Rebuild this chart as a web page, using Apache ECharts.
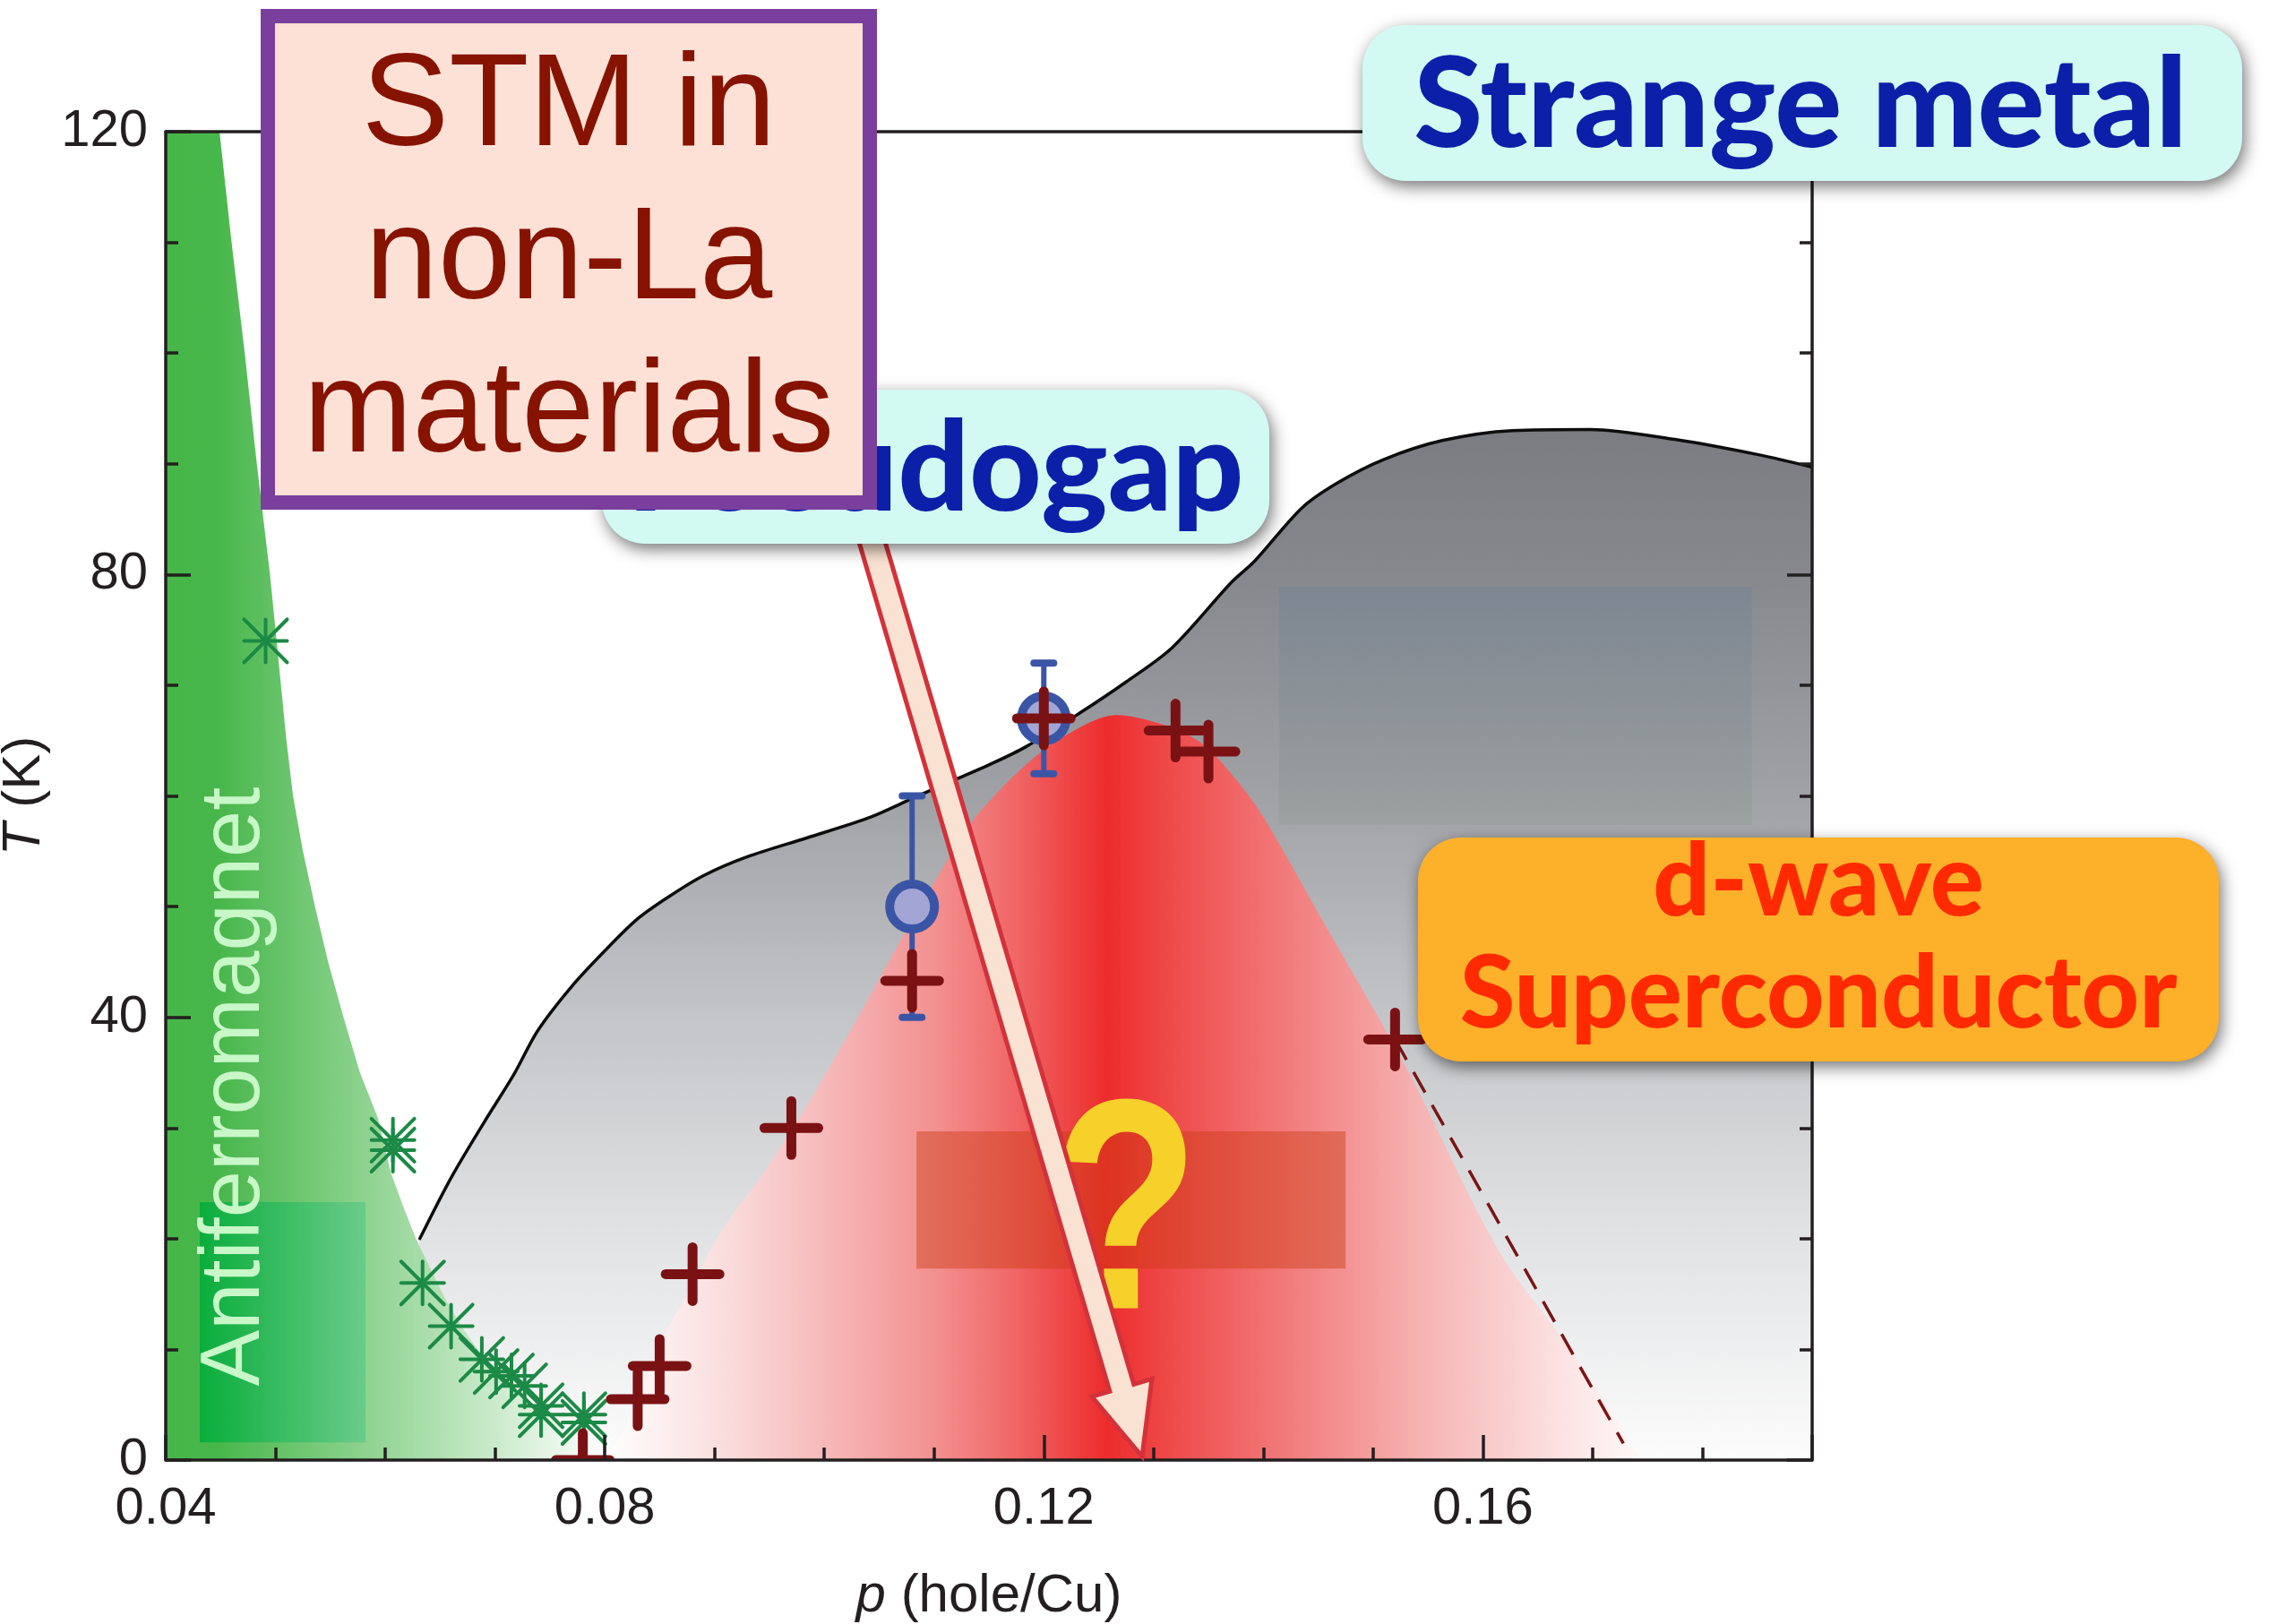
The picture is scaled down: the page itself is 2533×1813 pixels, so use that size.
<!DOCTYPE html>
<html><head><meta charset="utf-8">
<script src="https://cdn.jsdelivr.net/npm/echarts@6/dist/echarts.min.js"></script>
<style>html,body{margin:0;padding:0;background:#fff}#c{width:2533px;height:1813px}</style>
</head><body><div id="c"></div>
<script>
// ---------------- DATA ----------------
const xTickLabels = ['0.04', '0.08', '0.12', '0.16'];
const yTickLabels = ['0', '40', '80', '120'];

// Antiferromagnet boundary (p, T)
const afBoundP = [0.0400, 0.0449, 0.0460, 0.0472, 0.0483, 0.0495, 0.0505, 0.0510, 0.0516, 0.0525, 0.0536, 0.0548, 0.0562, 0.0577, 0.0593, 0.0605, 0.0618, 0.0628, 0.0640, 0.0655, 0.0670, 0.0688, 0.0710, 0.0733, 0.0760, 0.0780, 0.0800];
const afBoundT = [120, 120, 110, 100, 90, 80, 70, 65, 60, 55, 50, 45, 40, 35, 31, 26, 22.5, 20, 17.5, 14.5, 12, 9.5, 7, 5, 3, 1.3, 0];

// Pseudogap boundary line T*(p)
const pgLineP = [0.0631, 0.0660, 0.0690, 0.0717, 0.0739, 0.0770, 0.0800, 0.0830, 0.0860, 0.0890, 0.0930, 0.0984, 0.1040, 0.1081, 0.1120, 0.1150, 0.1183, 0.1233, 0.1275, 0.1317, 0.1371, 0.1392, 0.1435, 0.1468, 0.1510, 0.1563, 0.1627, 0.1698, 0.1775, 0.1852, 0.1900];
const pgLineT = [19.9, 25.5, 30.5, 34.8, 38.8, 42.8, 46.0, 48.9, 51.0, 52.8, 54.5, 56.2, 58.0, 59.8, 61.5, 62.8, 64.4, 67.5, 70.3, 73.4, 79.3, 81.2, 86.0, 88.3, 90.4, 92.1, 93.0, 93.1, 92.2, 90.8, 89.7];

// Superconducting dome boundary
const scDomeP = [0.0800, 0.0825, 0.0848, 0.0875, 0.0905, 0.0945, 0.0983, 0.1025, 0.1070, 0.1105, 0.1133, 0.1179, 0.1217, 0.1266, 0.1316, 0.1346, 0.1375, 0.1400, 0.1457, 0.1530, 0.1614, 0.1683, 0.1745];
const scDomeT = [0, 4, 10, 15, 20.5, 26, 31.8, 39, 47, 53, 57.5, 62.4, 65.3, 67.3, 66.2, 64.6, 61.5, 58.1, 48.2, 35.5, 19, 9.5, 0];

// Dashed extrapolation of Tc
const scDashP = [0.1520, 0.1728];
const scDashT = [38.0, 1.5];

// Neel temperature points (asterisks)
const afPtsP = [0.0491, 0.0607, 0.0607, 0.0634, 0.0660, 0.0688, 0.0701, 0.0715, 0.0727, 0.0742, 0.0742, 0.0781, 0.0781];
const afPtsT = [74.0, 28.9, 28.0, 16.0, 12.1, 9.1, 8.0, 7.6, 6.7, 4.9, 4.1, 4.1, 3.4];

// Tc points (crosses)
const scPtsP = [0.0780, 0.0830, 0.0850, 0.0880, 0.0970, 0.1080, 0.1200, 0.1320, 0.1350, 0.1520];
const scPtsT = [0.0, 5.5, 8.5, 16.8, 30.0, 43.3, 67.0, 65.9, 64.0, 38.0];

// STM points with error bars (circles)
const stmP = [0.1080, 0.1200];
const stmT = [50, 67];
const stmErr = [10, 5];

// Highlight rectangles [pseudogap, STM/?, antiferromagnet]
const hlP0 = [0.1414, 0.1084, 0.0431];
const hlP1 = [0.1845, 0.1475, 0.0582];
const hlT0 = [57.4, 17.3, 1.6];
const hlT1 = [78.9, 29.7, 23.3];

// ---------------- CHART ----------------
const zip2 = (a, b) => a.map((v, i) => [v, b[i]]);
const FONT = "'Liberation Sans', Arial, Helvetica, sans-serif";
const GILL = "Lato, 'Open Sans', sans-serif";
const AX = '#231f20';
const LG = echarts.graphic.LinearGradient;

const chart = echarts.init(document.getElementById('c'), null, {renderer: 'canvas', width: 2533, height: 1813});

const tickLine = {color: AX, width: 3.5};
const xBottom = {
  type: 'value', position: 'bottom', min: 0.04, max: 0.19, interval: 0.04, z: 10,
  axisLine: {show: true, onZero: false, lineStyle: tickLine},
  axisTick: {show: true, inside: true, length: 28, lineStyle: tickLine},
  minorTick: {show: true, splitNumber: 4, length: 14, lineStyle: tickLine},
  splitLine: {show: false},
  axisLabel: {
    margin: 26, color: AX, fontSize: 58, fontFamily: FONT,
    formatter: v => xTickLabels.find(l => Math.abs(parseFloat(l) - v) < 1e-6) || ''
  },
  name: '{i|p} (hole/Cu)', nameLocation: 'middle', nameGap: 122,
  nameTextStyle: {color: AX, fontSize: 60, fontFamily: FONT,
    rich: {i: {fontStyle: 'italic', fontSize: 60, fontFamily: FONT, color: AX}}}
};
const xTop = {
  type: 'value', position: 'top', min: 0.04, max: 0.19, interval: 0.04, z: 10,
  axisLine: {show: true, onZero: false, lineStyle: tickLine},
  axisTick: {show: false}, minorTick: {show: false}, axisLabel: {show: false}, splitLine: {show: false}
};
const yLeft = {
  type: 'value', position: 'left', min: 0, max: 120, interval: 40, z: 10,
  axisLine: {show: true, onZero: false, lineStyle: tickLine},
  axisTick: {show: true, inside: true, length: 28, lineStyle: tickLine},
  minorTick: {show: true, splitNumber: 4, length: 14, lineStyle: tickLine},
  splitLine: {show: false},
  axisLabel: {
    margin: 20, color: AX, fontSize: 58, fontFamily: FONT,
    formatter: v => yTickLabels.find(l => Math.abs(parseFloat(l) - v) < 1e-6) || ''
  },
  name: '{i|T} (K)', nameLocation: 'middle', nameRotate: 90, nameGap: 109,
  nameTextStyle: {color: AX, fontSize: 60, fontFamily: FONT,
    rich: {i: {fontStyle: 'italic', fontSize: 60, fontFamily: FONT, color: AX}}}
};
const yRight = {
  type: 'value', position: 'right', min: 0, max: 120, interval: 40, z: 10,
  axisLine: {show: true, onZero: false, lineStyle: tickLine},
  axisTick: {show: true, inside: true, length: 28, lineStyle: tickLine},
  minorTick: {show: true, splitNumber: 4, length: 14, lineStyle: tickLine},
  splitLine: {show: false}, axisLabel: {show: false}
};

// Series
const pgSeries = {
  type: 'line', name: 'pseudogap', data: zip2(pgLineP, pgLineT), z: 1, silent: true,
  showSymbol: false, symbol: 'none', smooth: 0.3,
  lineStyle: {color: '#0d0d0d', width: 3.5},
  areaStyle: {opacity: 1, color: new LG(0, 0, 0, 1, [
    {offset: 0, color: '#7b7c81'}, {offset: 0.14, color: '#87888d'},
    {offset: 0.36, color: '#a0a2a6'}, {offset: 0.57, color: '#c3c5c8'},
    {offset: 0.78, color: '#e1e2e4'}, {offset: 1, color: '#fcfcfc'}])}
};
const domeSeries = {
  type: 'line', name: 'dome', data: zip2(scDomeP, scDomeT), z: 2, silent: true,
  showSymbol: false, symbol: 'none', smooth: 0.3, lineStyle: {opacity: 0, width: 0.01},
  areaStyle: {opacity: 1, color: new LG(0, 0, 1, 0, [
    {offset: 0, color: '#ffffff'}, {offset: 0.106, color: '#fbe0e0'},
    {offset: 0.194, color: '#f7c0c0'}, {offset: 0.319, color: '#f39090'},
    {offset: 0.402, color: '#f06262'}, {offset: 0.484, color: '#ed2c2c'},
    {offset: 0.55, color: '#ef4c4c'}, {offset: 0.656, color: '#f27a7a'},
    {offset: 0.79, color: '#f6b4b4'}, {offset: 0.921, color: '#fce2e2'},
    {offset: 1, color: '#fff8f8'}])}
};
const afSeries = {
  type: 'line', name: 'antiferromagnet', data: zip2(afBoundP, afBoundT), z: 3, silent: true,
  showSymbol: false, symbol: 'none', smooth: false, lineStyle: {opacity: 0, width: 0.01},
  areaStyle: {opacity: 1, color: new LG(0, 0, 1, 0, [
    {offset: 0, color: '#46b649'}, {offset: 0.12, color: '#48b74b'}, {offset: 1, color: '#ffffff'}])}
};
const hlFills = [
  new LG(0, 0, 0, 1, [{offset: 0, color: 'rgba(100,125,150,0.32)'}, {offset: 1, color: 'rgba(140,150,140,0.3)'}]),
  'rgba(205,60,20,0.45)',
  new LG(0, 0, 1, 0, [{offset: 0, color: 'rgba(8,173,59,0.97)'}, {offset: 1, color: 'rgba(106,203,138,0.97)'}])
];
const hlSeries = {
  type: 'custom', name: 'highlights', z: 4, silent: true,
  data: hlP0.map((v, i) => [v, hlT0[i], hlP1[i], hlT1[i], i]),
  renderItem: (params, api) => {
    const a = api.coord([api.value(0), api.value(3)]);
    const b = api.coord([api.value(2), api.value(1)]);
    return {type: 'rect', shape: {x: a[0], y: a[1], width: b[0] - a[0], height: b[1] - a[1]},
      style: {fill: hlFills[api.value(4)]}};
  }
};
const dashSeries = {
  type: 'line', name: 'Tc extrapolation', data: zip2(scDashP, scDashT), z: 5, silent: true,
  showSymbol: false, symbol: 'none',
  lineStyle: {color: '#7a1414', width: 3.5, type: [26, 16]}
};
const asteriskSeries = {
  type: 'custom', name: 'T_N', z: 6, silent: true, clip: true,
  data: zip2(afPtsP, afPtsT),
  renderItem: (params, api) => {
    const c = api.coord([api.value(0), api.value(1)]);
    const r = 24, st = {stroke: '#1b8a46', lineWidth: 4, lineCap: 'round'};
    const seg = (x1, y1, x2, y2) => ({type: 'line', shape: {x1, y1, x2, y2}, style: st});
    return {type: 'group', children: [
      seg(c[0] - r, c[1], c[0] + r, c[1]), seg(c[0], c[1] - r, c[0], c[1] + r),
      seg(c[0] - r, c[1] - r, c[0] + r, c[1] + r), seg(c[0] - r, c[1] + r, c[0] + r, c[1] - r)]};
  }
};
const stmSeries = {
  type: 'custom', name: 'STM', z: 7, silent: true,
  data: stmP.map((v, i) => [v, stmT[i], stmErr[i]]),
  renderItem: (params, api) => {
    const p = api.value(0), t = api.value(1), e = api.value(2);
    const c = api.coord([p, t]), top = api.coord([p, t + e]), bot = api.coord([p, t - e]);
    const col = '#3b55a6';
    const bar = {stroke: col, lineWidth: 6, lineCap: 'round'};
    const cap = {stroke: col, lineWidth: 8, lineCap: 'round'};
    return {type: 'group', children: [
      {type: 'line', shape: {x1: c[0], y1: top[1], x2: c[0], y2: bot[1]}, style: bar},
      {type: 'line', shape: {x1: c[0] - 11, y1: top[1], x2: c[0] + 11, y2: top[1]}, style: cap},
      {type: 'line', shape: {x1: c[0] - 11, y1: bot[1], x2: c[0] + 11, y2: bot[1]}, style: cap},
      {type: 'circle', shape: {cx: c[0], cy: c[1], r: 25}, style: {fill: '#a3a6d4', stroke: col, lineWidth: 10}}
    ]};
  }
};
const crossSeries = {
  type: 'custom', name: 'Tc', z: 8, silent: true, clip: true,
  data: zip2(scPtsP, scPtsT),
  renderItem: (params, api) => {
    const c = api.coord([api.value(0), api.value(1)]);
    const r = 30, st = {stroke: '#7a1214', lineWidth: 11, lineCap: 'round'};
    return {type: 'group', children: [
      {type: 'line', shape: {x1: c[0] - r, y1: c[1], x2: c[0] + r, y2: c[1]}, style: st},
      {type: 'line', shape: {x1: c[0], y1: c[1] - r, x2: c[0], y2: c[1] + r}, style: st}]};
  }
};

// Arrow geometry (pixel layout of the annotation)
const tip = [1275, 1626], u = [0.2832, 0.9591], n = [0.9591, -0.2832];
const L = 1150, hl = 80, hw = 14, hh = 35;
const P = (a, b) => [tip[0] - a * u[0] + b * n[0], tip[1] - a * u[1] + b * n[1]];
const arrowPts = [P(L, hw), P(hl, hw), P(hl, hh), tip.slice(), P(hl, -hh), P(hl, -hw), P(L, -hw)];

const shadow = {shadowBlur: 18, shadowColor: 'rgba(0,0,0,0.55)', shadowOffsetX: 3, shadowOffsetY: 6};
const txt = (o) => Object.assign({textAlign: 'center', textVerticalAlign: 'middle', align: 'center', verticalAlign: 'middle'}, o);

const graphic = [
  {type: 'text', z: 20, x: 263, y: 1213, rotation: Math.PI / 2, silent: true,
    style: txt({text: 'Antiferromagnet', fill: '#c8f7c8', fontSize: 94, fontFamily: FONT})},
  {type: 'text', z: 20, x: 1257, y: 1368, scaleX: 0.8, silent: true,
    style: txt({text: '?', fill: '#f5d12a', fontSize: 335, fontWeight: 'bold', fontFamily: FONT})},
  {type: 'polygon', z: 25, silent: true, shape: {points: arrowPts},
    style: {fill: '#fae2d2', stroke: '#d3323a', lineWidth: 5, lineJoin: 'miter'}},
  // Pseudogap label
  {type: 'rect', z: 30, silent: true, shape: {x: 672, y: 435, width: 745, height: 172, r: 48},
    style: Object.assign({fill: '#d2faf2'}, shadow)},
  {type: 'text', z: 31, x: 1044, y: 525, silent: true,
    style: txt({text: 'Pseudogap', fill: '#0b1fa9', fontSize: 140, fontWeight: 900, fontFamily: GILL})},
  // STM box
  {type: 'rect', z: 40, silent: true, shape: {x: 299, y: 18, width: 672, height: 543},
    style: {fill: '#fde1d6', stroke: '#7a3f9d', lineWidth: 16}},
  {type: 'text', z: 41, x: 635, y: 293, silent: true,
    style: txt({text: 'STM in\nnon-La\nmaterials', fill: '#861300', fontSize: 146, lineHeight: 171, fontFamily: FONT})},
  // Strange metal
  {type: 'rect', z: 30, silent: true, shape: {x: 1521, y: 28, width: 982, height: 174, r: 48},
    style: Object.assign({fill: '#d2faf2'}, shadow)},
  {type: 'text', z: 31, x: 2010, y: 119, silent: true,
    style: txt({text: 'Strange metal', fill: '#0b1fa9', fontSize: 140, fontWeight: 900, fontFamily: GILL})},
  // d-wave superconductor
  {type: 'rect', z: 30, silent: true, shape: {x: 1583, y: 935, width: 894, height: 250, r: 48},
    style: Object.assign({fill: '#fdb02a'}, shadow)},
  {type: 'text', z: 31, x: 2030, y: 1048, silent: true,
    style: txt({text: 'd-wave\nSuperconductor', fill: '#ff2a00', fontSize: 112, lineHeight: 125, fontWeight: 900, fontFamily: GILL})}
];

chart.setOption({
  animation: false,
  backgroundColor: '#ffffff',
  grid: {left: 185, right: 510, top: 147, bottom: 183, containLabel: false, outerBoundsMode: 'none'},
  xAxis: [xBottom, xTop],
  yAxis: [yLeft, yRight],
  series: [pgSeries, domeSeries, afSeries, hlSeries, dashSeries, asteriskSeries, stmSeries, crossSeries],
  graphic: graphic
});
</script>
</body></html>
